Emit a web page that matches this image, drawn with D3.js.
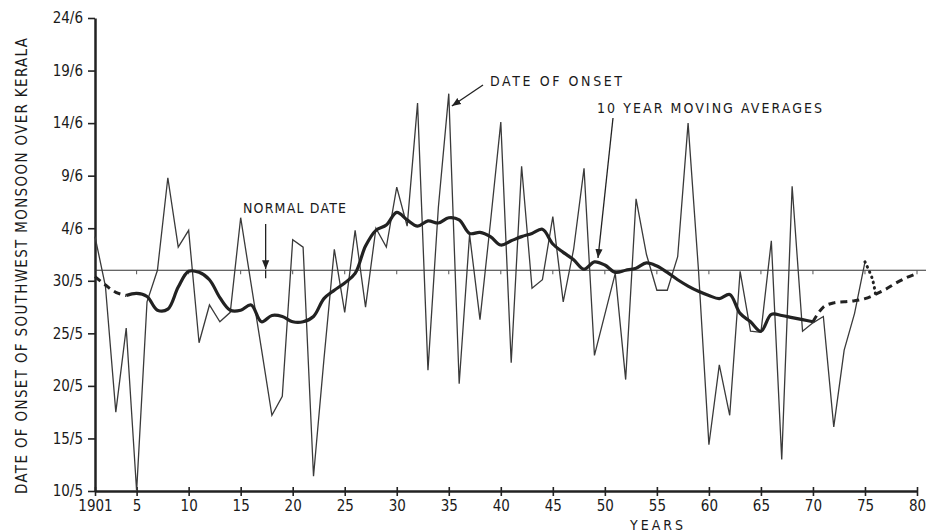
<!DOCTYPE html>
<html lang="en">
<head>
  <meta charset="UTF-8">
  <title>Onset of Southwest Monsoon over Kerala</title>
  <script src="https://d3js.org/d3.v7.min.js"></script>
  <style>
    html, body { margin: 0; padding: 0; background: #fff; }
    svg { display: block; }
    text { font-family: "Liberation Sans Narrow", "DejaVu Sans Condensed", "DejaVu Sans", sans-serif; fill: #1a1a1a; }
    .axis text { font-size: 15px; }
    .axis line, .axis path { stroke: #222; }
    .note { font-size: 14px; letter-spacing: 1px; }
  </style>
</head>
<body>
<svg width="926" height="532"></svg>
<script>
// onset dates as day counted from 0 May (so 32 = 1 June)
const onsetYears = d3.range(1901, 1976);
const onsetVals = [
  34.2, 29.5, 17.5, 25.5, 10.0, 28.0, 31.0, 39.8, 33.2, 34.8,
  24.1, 27.7, 26.1, 27.0, 36.0, 29.7, 23.5, 17.2, 19.0, 33.9,
  33.2, 11.4, 22.5, 33.0, 27.0, 34.8, 27.5, 35.0, 33.2, 38.9,
  35.2, 46.9, 21.5, 37.0, 47.8, 20.2, 34.4, 26.3, 35.5, 45.1,
  22.2, 40.9, 29.3, 30.1, 36.1, 28.0, 33.0, 40.7, 22.9, 26.8,
  30.7, 20.6, 37.8, 32.5, 29.1, 29.1, 32.3, 45.0, 31.0, 14.4,
  22.0, 17.2, 30.9, 25.2, 25.1, 33.8, 13.0, 39.0, 25.2, 26.0,
  26.6, 16.1, 23.4, 26.9, 31.8
];

// 10 year moving averages as drawn (dashed at both ends)
const maYears = d3.range(1901, 1981);
const maVals = [
  30.4, 29.6, 28.9, 28.6, 28.8, 28.5, 27.2, 27.3, 29.4, 30.9,
  30.8, 30.1, 28.4, 27.2, 27.2, 27.7, 26.1, 26.7, 26.6, 26.1,
  26.1, 26.6, 28.3, 29.1, 29.8, 30.7, 33.3, 34.8, 35.3, 36.5,
  35.8, 35.2, 35.7, 35.5, 36.0, 35.8, 34.5, 34.6, 34.2, 33.4,
  33.8, 34.2, 34.5, 34.9, 33.5, 32.7, 32.0, 31.1, 31.8, 31.5,
  30.8, 31.0, 31.2, 31.7, 31.4, 30.8, 30.1, 29.5, 29.0, 28.6,
  28.3, 28.7, 26.9, 26.1, 25.2, 26.8, 26.7, 26.5, 26.3, 26.1,
  27.5, 27.9, 28.0, 28.1, 28.3, 28.7, 29.2, 29.8, 30.3, 30.7
];
const maSolidFrom = 1904, maSolidTo = 1970;

// dotted link from the last onset to the dashed average
const linkYears = [1975, 1975.7, 1976];
const linkVals = [31.8, 30.2, 28.8];

const normalDate = 31;

const yTicks = [10, 15, 20, 25, 30, 35, 40, 45, 50, 55];
const yTickLabels = ["10/5", "15/5", "20/5", "25/5", "30/5", "4/6", "9/6", "14/6", "19/6", "24/6"];
const xTicks = d3.range(1905, 1981, 5);
xTicks.unshift(1901);
const xTickLabels = ["1901", "5", "10", "15", "20", "25", "30", "35", "40", "45", "50", "55", "60", "65", "70", "75", "80"];

const svg = d3.select("svg");
const x = d3.scaleLinear().domain([1901, 1980]).range([95, 917]);
const y = d3.scaleLinear().domain([10, 55]).range([491, 18]);

// axes
const yAxis = d3.axisLeft(y).tickValues(yTicks).tickSize(7).tickSizeOuter(0)
  .tickFormat((d, i) => yTickLabels[i]);
const gy = svg.append("g").attr("class", "axis").attr("transform", `translate(${x(1901)},0)`).call(yAxis);
gy.select(".domain").attr("stroke-width", 2.5);
gy.selectAll(".tick line").attr("stroke-width", 1.6);
gy.selectAll(".tick text").attr("x", -12);

const xAxis = d3.axisBottom(x).tickValues(xTicks).tickSize(5).tickSizeOuter(0)
  .tickFormat((d, i) => xTickLabels[i]);
const gx = svg.append("g").attr("class", "axis").attr("transform", `translate(0,${y(10)})`).call(xAxis);
gx.select(".domain").attr("stroke-width", 2.5);
gx.selectAll(".tick line").attr("y1", -4).attr("stroke-width", 1.6);
gx.selectAll(".tick text").attr("y", 9);

// normal date line with its small marks
svg.append("line")
  .attr("x1", x(1901)).attr("x2", 926)
  .attr("y1", y(normalDate)).attr("y2", y(normalDate))
  .attr("stroke", "#333").attr("stroke-width", 1.1);
svg.append("g").selectAll("line").data(xTicks.slice(1)).join("line")
  .attr("x1", d => x(d)).attr("x2", d => x(d))
  .attr("y1", y(normalDate)).attr("y2", y(normalDate) + 4)
  .attr("stroke", "#555").attr("stroke-width", 1);

// yearly onset line
const line = d3.line().x(d => x(d[0])).y(d => y(d[1]));
svg.append("path")
  .datum(onsetYears.map((yr, i) => [yr, onsetVals[i]]))
  .attr("fill", "none").attr("stroke", "#3a3a3a").attr("stroke-width", 1.3)
  .attr("stroke-linejoin", "miter")
  .attr("d", line);

// moving averages
const maPts = maYears.map((yr, i) => [yr, maVals[i]]);
const smooth = d3.line().curve(d3.curveCatmullRom).x(d => x(d[0])).y(d => y(d[1]));
svg.append("path")
  .datum(maPts.filter(d => d[0] <= maSolidFrom))
  .attr("fill", "none").attr("stroke", "#222").attr("stroke-width", 3)
  .attr("stroke-dasharray", "7 5").attr("d", smooth);
svg.append("path")
  .datum(maPts.filter(d => d[0] >= maSolidFrom && d[0] <= maSolidTo))
  .attr("fill", "none").attr("stroke", "#222").attr("stroke-width", 3.2)
  .attr("stroke-linejoin", "round").attr("d", smooth);
svg.append("path")
  .datum(maPts.filter(d => d[0] >= maSolidTo))
  .attr("fill", "none").attr("stroke", "#222").attr("stroke-width", 3)
  .attr("stroke-dasharray", "7 5").attr("d", smooth);
svg.append("path")
  .datum(linkYears.map((yr, i) => [yr, linkVals[i]]))
  .attr("fill", "none").attr("stroke", "#222").attr("stroke-width", 3)
  .attr("stroke-linecap", "round").attr("stroke-dasharray", "0.5 5")
  .attr("d", smooth);

// arrowhead
svg.append("defs").append("marker")
  .attr("id", "head").attr("viewBox", "0 0 10 10").attr("refX", 10).attr("refY", 5)
  .attr("markerWidth", 9).attr("markerHeight", 9).attr("markerUnits", "userSpaceOnUse")
  .attr("orient", "auto")
  .append("path").attr("d", "M0,1 L10,5 L0,9 Z").attr("fill", "#222");

function arrow(x1, y1, x2, y2) {
  svg.append("line").attr("x1", x1).attr("y1", y1).attr("x2", x2).attr("y2", y2)
    .attr("stroke", "#222").attr("stroke-width", 1.3).attr("marker-end", "url(#head)");
}

// labels
svg.append("text").attr("class", "note").attr("x", 243).attr("y", 213)
  .attr("textLength", 104).text("NORMAL DATE");
arrow(x(1917.4), 224, x(1917.4), y(normalDate) - 1);
svg.append("line").attr("x1", x(1917.4)).attr("x2", x(1917.4))
  .attr("y1", y(normalDate)).attr("y2", y(normalDate) + 8).attr("stroke", "#222").attr("stroke-width", 1.3);

svg.append("text").attr("class", "note").attr("x", 490).attr("y", 86)
  .attr("textLength", 133).text("DATE OF ONSET");
arrow(483, 85, x(1935.3), 106);

svg.append("text").attr("class", "note").attr("x", 597).attr("y", 113)
  .attr("textLength", 226).text("10 YEAR MOVING AVERAGES");
arrow(613, 118, 598, 258);

svg.append("text").attr("x", 658).attr("y", 530).attr("text-anchor", "middle")
  .style("font-size", "14px").attr("letter-spacing", 3).text("YEARS");

svg.append("text")
  .attr("transform", "translate(27,266) rotate(-90)")
  .attr("text-anchor", "middle")
  .style("font-size", "15px")
  .attr("textLength", 456)
  .text("DATE OF ONSET OF SOUTHWEST MONSOON OVER KERALA");
</script>
</body>
</html>
